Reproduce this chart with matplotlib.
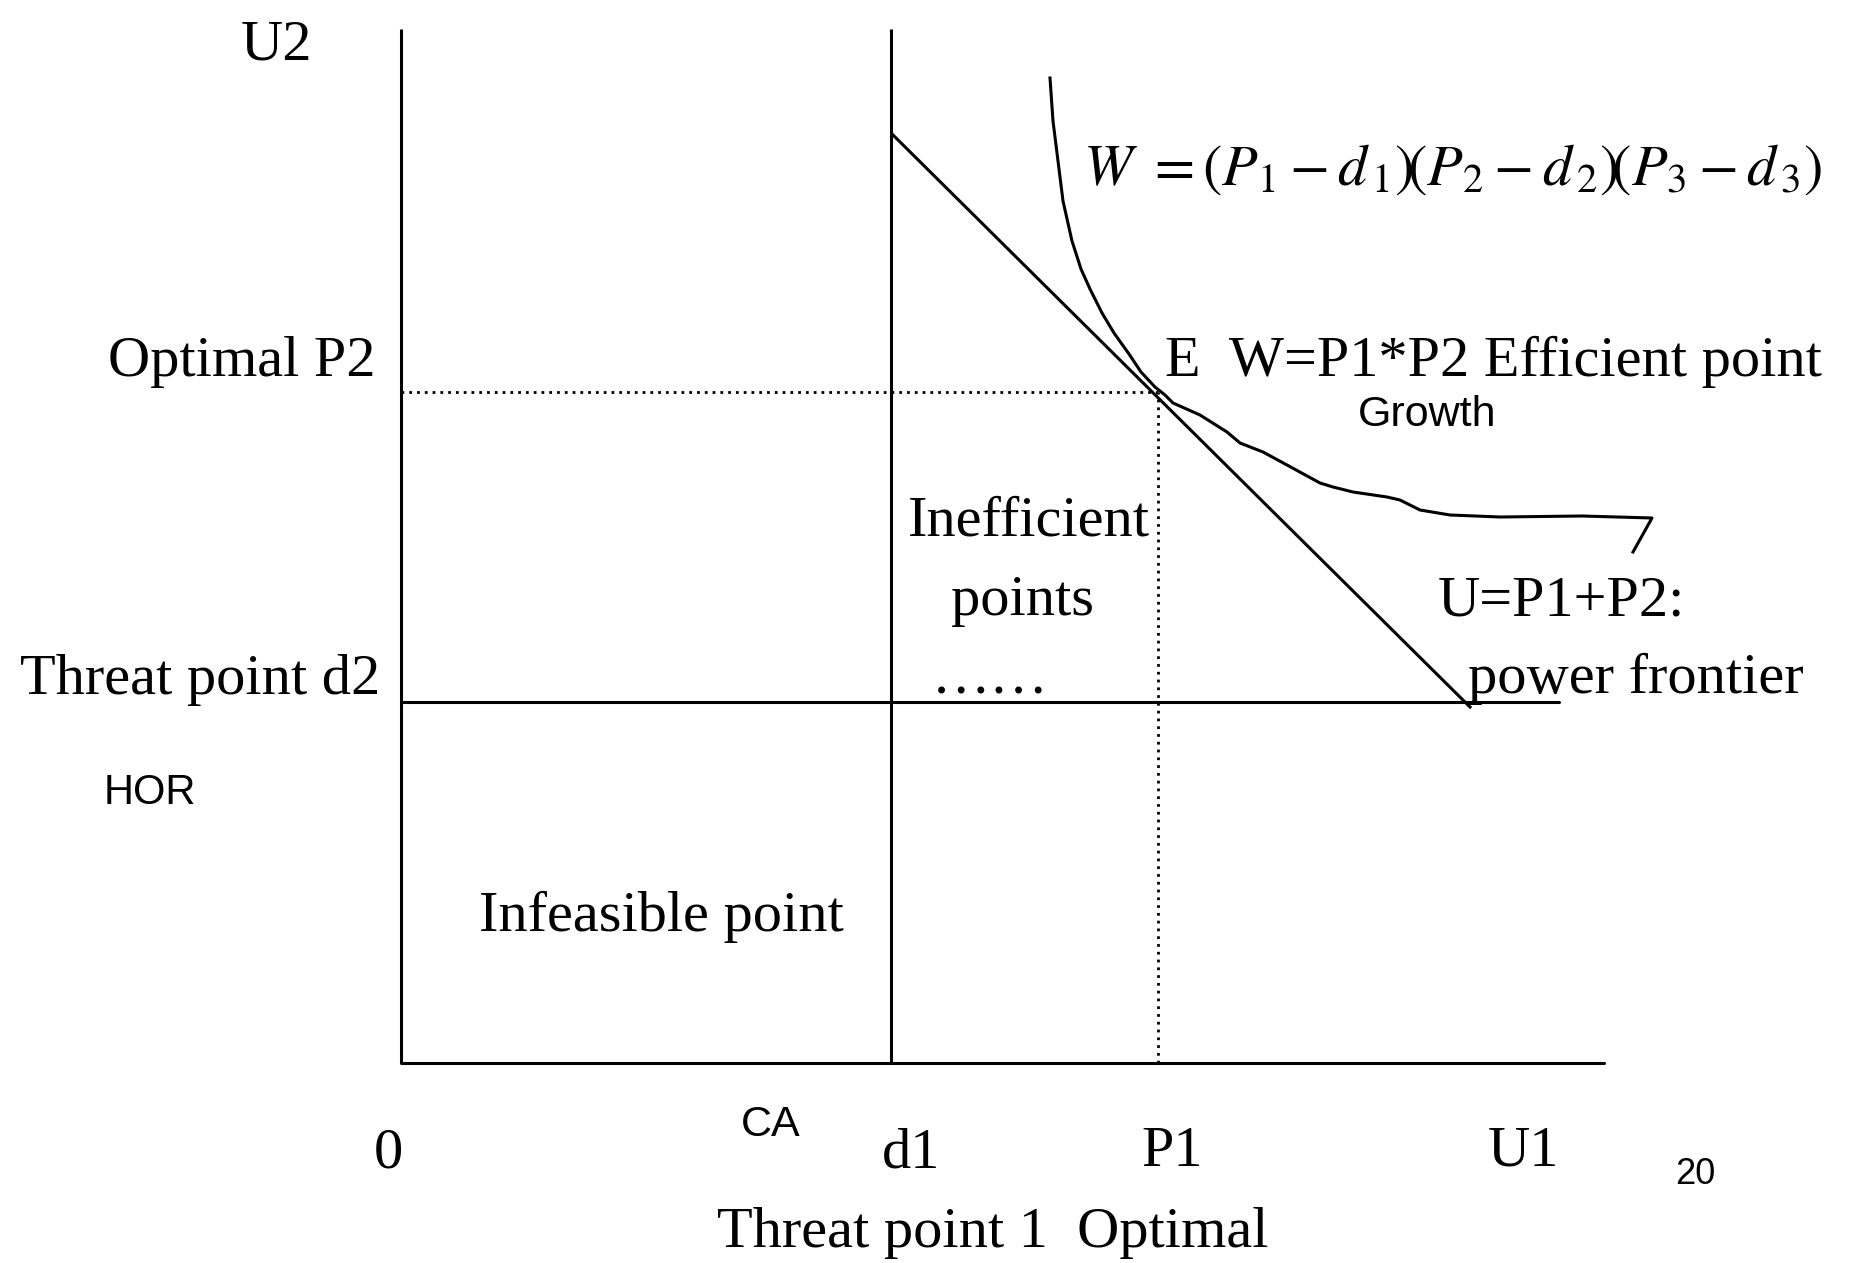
import numpy as np
import matplotlib.pyplot as plt

plt.rcParams['mathtext.fontset'] = 'stix'

SERIF = ['Liberation Serif', 'DejaVu Serif']
SANS = ['Liberation Sans', 'DejaVu Sans']

# key points of the bargaining diagram (utility units)
d1, d2 = 4.90, 3.61          # threat point
P1, P2 = 7.57, 6.71          # optimal (efficient) point E
axis_top = 10.34
axis_right = 12.03
threat_right = 11.58

# power frontier U = P1 + P2 (straight line)
frontier_x = [4.91, 10.69]
frontier_y = [9.29, 3.56]

# hand drawn W curve, tangent at E, then the "growth" path
curve_x = [6.49, 6.52, 6.57, 6.62, 6.71, 6.80, 6.89, 7.01, 7.13, 7.28, 7.40, 7.54,
           7.64, 7.72, 7.99, 8.26, 8.39, 8.62, 8.86, 9.19, 9.32, 9.52, 9.86, 9.99,
           10.19, 10.49, 10.99, 11.81, 12.51, 12.32]
curve_y = [9.85, 9.42, 9.02, 8.62, 8.22, 7.94, 7.74, 7.50, 7.30, 7.09, 6.91, 6.76,
           6.68, 6.60, 6.48, 6.31, 6.20, 6.11, 5.98, 5.80, 5.76, 5.71, 5.66, 5.63,
           5.53, 5.48, 5.46, 5.47, 5.45, 5.11]

fig = plt.figure(figsize=(18.61, 12.63), dpi=100)
ax = fig.add_axes([0, 0, 1, 1])
ax.set_xlim(-4.01, 14.60)
ax.set_ylim(-2.00, 10.63)
ax.axis('off')

lw = 2.2
# axes
ax.plot([0, 0], [0, axis_top], color='black', lw=lw, solid_capstyle='butt')
ax.plot([0, axis_right], [0, 0], color='black', lw=lw, solid_capstyle='round')
# threat point lines
ax.plot([d1, d1], [0, axis_top], color='black', lw=lw, solid_capstyle='butt')
ax.plot([0, threat_right], [d2, d2], color='black', lw=lw, solid_capstyle='round')
# optimal point guides
ax.plot([0, P1], [P2, P2], color='black', lw=2.0, linestyle=(0, (1, 1.8)))
ax.plot([P1, P1], [0, P2], color='black', lw=2.0, linestyle=(0, (1, 1.8)))
# frontier and curve
ax.plot(frontier_x, frontier_y, color='black', lw=lw)
ax.plot(curve_x, curve_y, color='black', lw=lw, solid_joinstyle='round')

fs = 42
ax.text(-1.24, 10.04, 'U2', family=SERIF, fontsize=fs, ha='center', va='baseline')
ax.text(-0.26, 6.87, 'Optimal P2', family=SERIF, fontsize=fs, ha='right', va='baseline')
ax.text(-0.21, 3.69, 'Threat point d2', family=SERIF, fontsize=fs, ha='right', va='baseline')
ax.text(-2.97, 2.59, 'HOR', family=SANS, fontsize=30, ha='left', va='baseline')
ax.text(2.60, 1.32, 'Infeasible point', family=SERIF, fontsize=fs, ha='center', va='baseline')
ax.text(-0.13, -1.05, '0', family=SERIF, fontsize=fs, ha='center', va='baseline')
ax.text(3.70, -0.73, 'CA', family=SANS, fontsize=31, ha='center', va='baseline')
ax.text(5.10, -1.04, 'd1', family=SERIF, fontsize=fs, ha='center', va='baseline')
ax.text(7.71, -1.03, 'P1', family=SERIF, fontsize=fs, ha='center', va='baseline')
ax.text(11.22, -1.03, 'U1', family=SERIF, fontsize=fs, ha='center', va='baseline')
ax.text(12.94, -1.21, '20', family=SANS, fontsize=26, ha='center', va='baseline')
ax.text(5.92, -1.84, 'Threat point 1  Optimal', family=SERIF, fontsize=fs,
        ha='center', va='baseline')
ax.text(6.28, 5.28, 'Inefficient', family=SERIF, fontsize=fs, ha='center', va='baseline')
ax.text(6.21, 4.48, 'points', family=SERIF, fontsize=fs, ha='center', va='baseline')
ax.text(5.89, 3.70, '……', family=SERIF, fontsize=fs, ha='center', va='baseline')
ax.text(7.64, 6.87, 'E  W=P1*P2 Efficient point', family=SERIF, fontsize=fs,
        ha='left', va='baseline')
ax.text(9.57, 6.37, 'Growth', family=SANS, fontsize=31, ha='left', va='baseline')
ax.text(6.82, 8.78,
        r'$W\ =\left(P_1-d_{\,1}\right)\!\left(P_2-d_{\,2}\right)\!\left(P_3-d_{\,3}\right)$',
        fontsize=42, ha='left', va='baseline')
ax.text(10.37, 4.48, 'U=P1+P2:', family=SERIF, fontsize=fs, ha='left', va='baseline')
ax.text(10.67, 3.70, 'power frontier', family=SERIF, fontsize=fs, ha='left', va='baseline')

fig.savefig('out.png', dpi=100, facecolor='white')
